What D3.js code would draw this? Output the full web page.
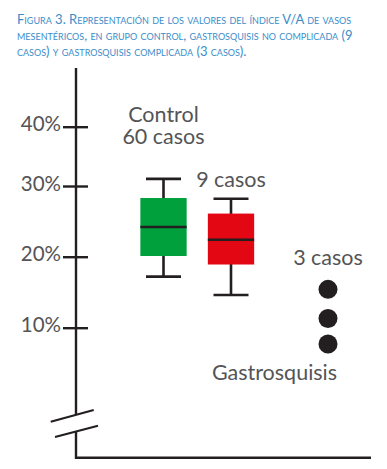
<!DOCTYPE html>
<html lang="es">
<head>
<meta charset="UTF-8">
<title>Índice V/A de vasos mesentéricos</title>
<script src="https://d3js.org/d3.v7.min.js"></script>
<style>
  body { margin: 0; background: #fff; }
  svg { display: block; }
  text { font-family: Lato, "Open Sans", sans-serif; fill: #545456; }
  .title text { fill: #3b8dca; font-variant: small-caps; }
</style>
</head>
<body>
<svg width="387" height="469"></svg>
<script>
const width = 387, height = 469;

// data
const groups = ["Control", "Gastrosquisis no complicada", "Gastrosquisis complicada"];
const boxMin    = [17.2, 14.6];
const boxQ1     = [20.1, 18.9];
const boxMedian = [24.2, 22.4];
const boxQ3     = [28.3, 26.1];
const boxMax    = [31.2, 28.2];
const caseValues = [15.4, 11.3, 7.7];   // 3 casos complicados
const caseLabels = ["60 casos", "9 casos", "3 casos"];
const tickValues = [10, 20, 30, 40];
const titleLines = [
    "Figura 3. Representación de los valores del índice V/A de vasos",
    "mesentéricos, en grupo control, gastrosquisis no complicada (9",
    "casos) y gastrosquisis complicada (3 casos)."
];

const ink = "#231f20";
const boxColors = ["#00a03c", "#e30613"];
const axisX = 76, axisTop = 68, axisBottom = 457.7;

const svg = d3.select("svg").attr("width", width).attr("height", height);

// the printed axis is not evenly spaced, so use a piecewise scale
const y = d3.scaleLinear().domain(tickValues).range([327.7, 256.7, 186, 126.7]);
const x = d3.scaleOrdinal().domain(groups).range([163.5, 231, 328]);

// title
svg.append("g").attr("class", "title")
    .selectAll("text")
    .data(titleLines)
    .enter().append("text")
    .attr("x", 17)
    .attr("y", (d, i) => 24 + i * 16)
    .attr("font-size", 13)
    .text(d => d);

// y axis with ticks crossing the line
const axis = svg.append("g")
    .attr("transform", `translate(${axisX},0)`)
    .call(d3.axisLeft(y).tickValues(tickValues).tickFormat(d => d + "%").tickSize(13).tickPadding(2));
axis.select(".domain").remove();
axis.selectAll(".tick line")
    .attr("x1", 12).attr("x2", -13)
    .attr("stroke", ink).attr("stroke-width", 2.4);
axis.selectAll(".tick text")
    .attr("font-size", 20.5)
    .attr("dy", "0.2em");

// axis line with break
svg.append("line")
    .attr("x1", axisX).attr("x2", axisX)
    .attr("y1", axisTop).attr("y2", 414.8)
    .attr("stroke", ink).attr("stroke-width", 2.4);
svg.append("path")
    .attr("d", `M${axisX},431.5V${axisBottom}H371`)
    .attr("fill", "none")
    .attr("stroke", ink).attr("stroke-width", 2.4);
[[50.7, 421.7, 93.7, 410], [55, 437, 98, 425.7]].forEach(s => {
    svg.append("line")
        .attr("x1", s[0]).attr("y1", s[1]).attr("x2", s[2]).attr("y2", s[3])
        .attr("stroke", ink).attr("stroke-width", 2.2);
});

// box plots
const boxW = 46.3, capW = 35;
const boxes = svg.append("g");
boxMin.forEach((v, i) => {
    const cx = x(groups[i]);
    const g = boxes.append("g");
    g.append("line")
        .attr("x1", cx).attr("x2", cx)
        .attr("y1", y(boxMin[i])).attr("y2", y(boxMax[i]))
        .attr("stroke", ink).attr("stroke-width", 2.6);
    [boxMin[i], boxMax[i]].forEach(w => {
        g.append("line")
            .attr("x1", cx - capW / 2).attr("x2", cx + capW / 2)
            .attr("y1", y(w)).attr("y2", y(w))
            .attr("stroke", ink).attr("stroke-width", 2.6);
    });
    g.append("rect")
        .attr("x", cx - boxW / 2).attr("width", boxW)
        .attr("y", y(boxQ3[i])).attr("height", y(boxQ1[i]) - y(boxQ3[i]))
        .attr("fill", boxColors[i]);
    g.append("line")
        .attr("x1", cx - boxW / 2).attr("x2", cx + boxW / 2)
        .attr("y1", y(boxMedian[i])).attr("y2", y(boxMedian[i]))
        .attr("stroke", ink).attr("stroke-width", 2.6);
});

// individual cases
svg.append("g")
    .selectAll("circle")
    .data(caseValues)
    .enter().append("circle")
    .attr("cx", x(groups[2]))
    .attr("cy", d => y(d))
    .attr("r", 9.5)
    .attr("fill", ink);

// annotations
const labels = svg.append("g").attr("text-anchor", "middle").attr("font-size", 21.5);
labels.append("text").attr("x", x(groups[0])).attr("y", 122).text("Control");
labels.append("text").attr("x", x(groups[0])).attr("y", 144).text(caseLabels[0]);
labels.append("text").attr("x", x(groups[1])).attr("y", 187.3).text(caseLabels[1]);
labels.append("text").attr("x", x(groups[2])).attr("y", 264.7).text(caseLabels[2]);
labels.append("text").attr("x", 274.5).attr("y", 380).text("Gastrosquisis");
</script>
</body>
</html>
